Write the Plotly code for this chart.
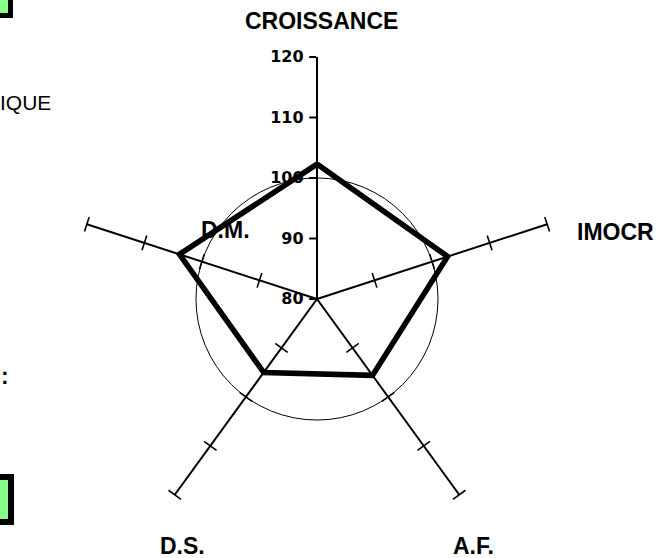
import plotly.graph_objects as go

W, H = 656, 558

# chart data
categories = ["CROISSANCE", "IMOCR", "A.F.", "D.S.", "D.M."]
values = [102.3, 102.7, 95.6, 95.0, 103.9]
radial_ticks = [80, 90, 100, 110, 120]
reference_level = [100]


def px(x):
    return x / W


def py(y):
    return 1 - y / H


cx, cy, rad = 317, 299, 242
domain_x = [px(cx - rad), px(cx + rad)]
domain_y = [py(cy + rad), py(cy - rad)]

fig = go.Figure()

# closed data polygon
fig.add_trace(go.Scatterpolar(
    r=values + values[:1],
    theta=categories + categories[:1],
    mode="lines",
    line=dict(color="black", width=5.5),
    showlegend=False,
    subplot="polar",
))

# small cross ticks on the other spokes
for i, cat in enumerate(categories[1:], start=1):
    ticks = radial_ticks[1:]
    fig.add_trace(go.Scatterpolar(
        r=ticks,
        theta=[cat] * len(ticks),
        mode="markers",
        marker=dict(symbol="line-ew", size=11, angle=72 * i,
                    line=dict(color="black", width=1.6)),
        showlegend=False,
        hoverinfo="skip",
        subplot="polar",
    ))

# helper trace so the reference circle subplot is drawn
fig.add_trace(go.Scatterpolar(
    r=reference_level,
    theta=[0],
    mode="lines",
    showlegend=False,
    hoverinfo="skip",
    subplot="polar2",
))

bold = dict(family="DejaVu Sans", size=16, color="black", weight="bold")
label_font = dict(family="Liberation Sans, Arial", size=23, color="black", weight="bold")

fig.update_layout(
    width=W,
    height=H,
    margin=dict(l=0, r=0, t=0, b=0),
    paper_bgcolor="white",
    plot_bgcolor="white",
    polar=dict(
        domain=dict(x=domain_x, y=domain_y),
        bgcolor="white",
        radialaxis=dict(
            range=[radial_ticks[0], radial_ticks[-1]],
            tickvals=radial_ticks,
            angle=90,
            side="counterclockwise",
            ticks="outside",
            ticklen=7,
            tickwidth=1.6,
            tickcolor="black",
            showline=True,
            linecolor="black",
            linewidth=1.6,
            showgrid=False,
            tickfont=bold,
            tickangle=90,
        ),
        angularaxis=dict(
            categoryorder="array",
            categoryarray=categories,
            rotation=90,
            direction="clockwise",
            showline=False,
            showticklabels=False,
            ticks="",
            showgrid=True,
            gridcolor="black",
            gridwidth=1.6,
        ),
    ),
    polar2=dict(
        domain=dict(x=domain_x, y=domain_y),
        bgcolor="rgba(0,0,0,0)",
        radialaxis=dict(
            range=[radial_ticks[0], radial_ticks[-1]],
            tickvals=reference_level,
            showticklabels=False,
            ticks="",
            showline=False,
            showgrid=True,
            gridcolor="black",
            gridwidth=1.2,
        ),
        angularaxis=dict(visible=False, showgrid=False),
    ),
)

label_pos = {
    "CROISSANCE": (321, 21),
    "IMOCR": (615, 232),
    "A.F.": (473, 546),
    "D.S.": (182, 546),
    "D.M.": (225, 230),
}
for cat in categories:
    x, y = label_pos[cat]
    fig.add_annotation(x=px(x), y=py(y), xref="paper", yref="paper",
                       text=cat, showarrow=False, font=label_font,
                       xanchor="center", yanchor="middle")

# clipped leftovers at the left edge
fig.add_annotation(x=px(-2), y=py(102), xref="paper", yref="paper", text="IQUE",
                   showarrow=False, xanchor="left", yanchor="middle",
                   font=dict(family="Liberation Sans, Arial", size=21, color="black"))
fig.add_annotation(x=px(-1), y=py(376), xref="paper", yref="paper", text=":",
                   showarrow=False, xanchor="left", yanchor="middle",
                   font=label_font)

fig.add_shape(type="rect", xref="paper", yref="paper",
              x0=px(-10), x1=px(10.5), y0=py(-10), y1=py(15.5),
              line=dict(color="black", width=5), fillcolor="#88FF88")
fig.add_shape(type="rect", xref="paper", yref="paper",
              x0=px(-10), x1=px(11), y0=py(477), y1=py(522),
              line=dict(color="black", width=6), fillcolor="#88FF88")

# drop the default page margin so the figure sits at the window's corner
fig.write_html("out.html", config={"displayModeBar": False},
               post_script="document.body.style.margin='0px';")
